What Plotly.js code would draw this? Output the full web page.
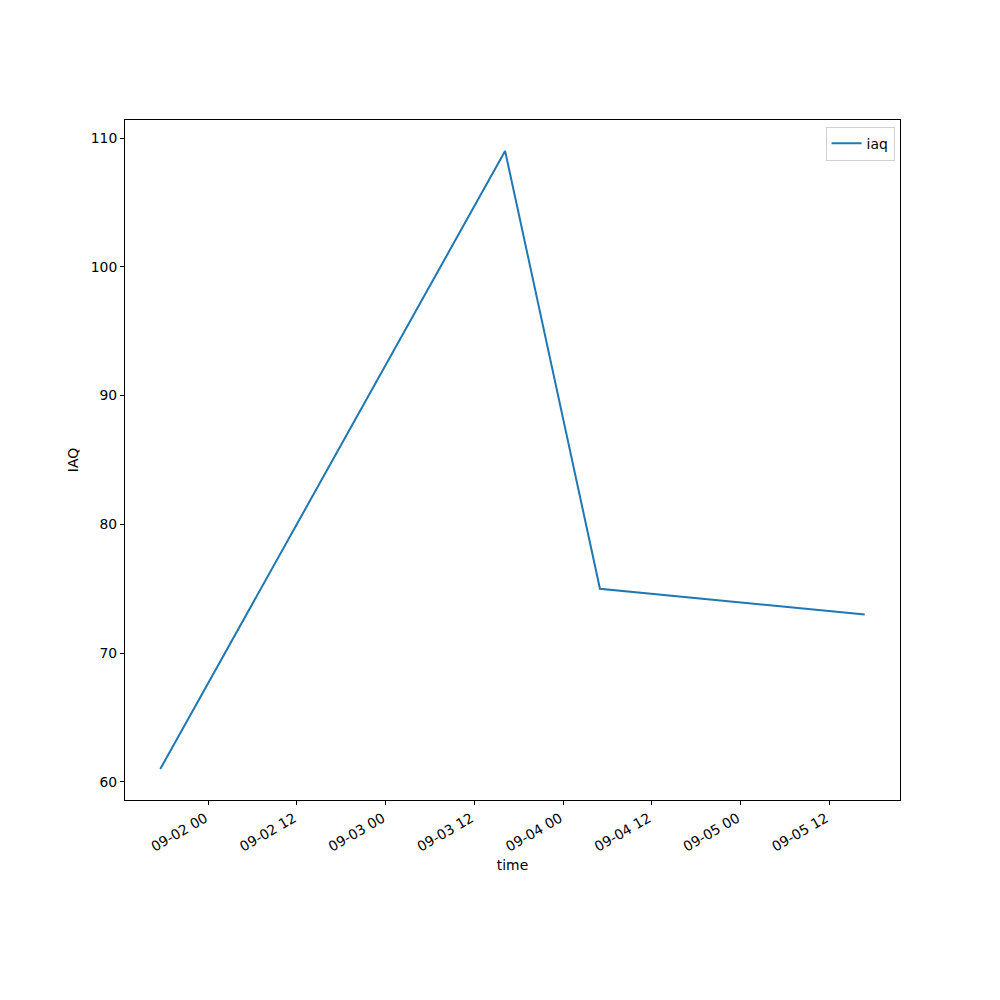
<!DOCTYPE html>
<html>
<head>
<meta charset="utf-8">
<script src="https://cdn.plot.ly/plotly-3.0.1.min.js"></script>
<style>html,body{margin:0;padding:0;background:#fff;}#chart{width:1000px;height:1000px;}</style>
</head>
<body>
<div id="chart"></div>
<script>
const times = ["2023-09-01 17:30", "2023-09-03 16:10", "2023-09-04 05:00", "2023-09-05 16:50"];
const iaq = [61, 109, 75, 73];
const seriesName = "iaq";
const xTitle = "time";
const yTitle = "IAQ";
const yTicks = [60, 70, 80, 90, 100, 110];

const toMs = s => new Date(s.replace(" ", "T") + "Z").getTime();
const tMin = toMs(times[0]), tMax = toMs(times[times.length - 1]);
const pad = (tMax - tMin) * 0.05;
const fmt = ms => new Date(ms).toISOString().replace("T", " ").slice(0, 19);
const yMin = Math.min(...iaq), yMax = Math.max(...iaq);
const yPad = (yMax - yMin) * 0.05;

const font = {family: "DejaVu Sans, sans-serif", size: 13.9, color: "#000"};

Plotly.newPlot("chart", [{
  x: times, y: iaq, name: seriesName, type: "scatter", mode: "lines",
  line: {color: "#1f77b4", width: 2}, showlegend: true
}], {
  width: 1000, height: 1000,
  margin: {l: 125, r: 100, t: 120, b: 200},
  paper_bgcolor: "#fff", plot_bgcolor: "#fff",
  font: font,
  showlegend: true,
  xaxis: {
    type: "date",
    range: [fmt(tMin - pad), fmt(tMax + pad)],
    tick0: "2023-09-02 00:00", dtick: 43200000,
    tickformat: "%m-%d %H", tickangle: -30,
    ticks: "outside", ticklen: 4, tickwidth: 1, tickcolor: "#000",
    ticklabelshift: -3,
    showline: true, linecolor: "#000", linewidth: 1, mirror: true,
    showgrid: false, zeroline: false,
    tickfont: font,
    title: {text: xTitle, font: font, standoff: 6}
  },
  yaxis: {
    range: [yMin - yPad, yMax + yPad],
    tickvals: yTicks,
    ticks: "outside", ticklen: 4, tickwidth: 1, tickcolor: "#000",
    showline: true, linecolor: "#000", linewidth: 1, mirror: true,
    showgrid: false, zeroline: false,
    tickfont: font,
    title: {text: yTitle, font: font, standoff: 8}
  },
  legend: {
    x: 0.993, y: 0.99, xanchor: "right", yanchor: "top",
    bgcolor: "rgba(255,255,255,0.8)", bordercolor: "#d0d0d0", borderwidth: 1,
    font: font, itemwidth: 30, tracegroupgap: 0
  }
}, {displayModeBar: false, staticPlot: true});
</script>
</body>
</html>
